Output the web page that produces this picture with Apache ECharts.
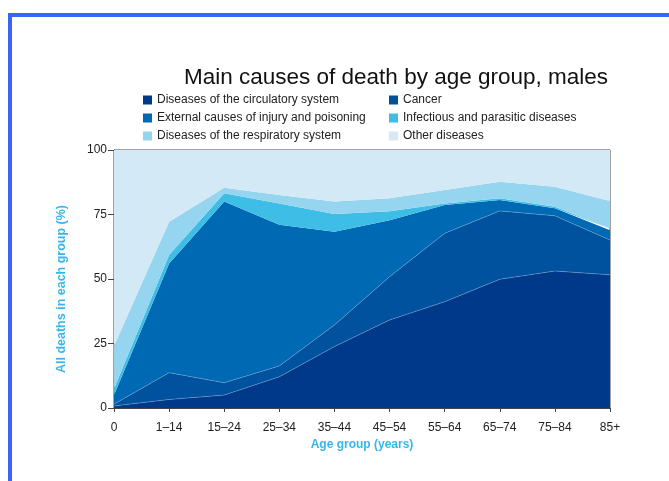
<!DOCTYPE html>
<html>
<head>
<meta charset="utf-8">
<title>Main causes of death by age group, males</title>
<script src="https://cdn.jsdelivr.net/npm/echarts@6/dist/echarts.min.js"></script>
<style>
    html, body { margin: 0; padding: 0; background: #fff; }
    #chart { width: 669px; height: 481px; }
</style>
</head>
<body>
<div id="chart"></div>
<script>
    // age groups on the x axis
    var ageGroups = ['0', '1–14', '15–24', '25–34', '35–44', '45–54', '55–64', '65–74', '75–84', '85+'];

    // share of all deaths (%) for each cause
    var circulatory = [0.8, 3.3, 5.0, 12.1, 23.8, 34.1, 41.2, 49.9, 53.1, 51.6];
    var cancer      = [0.7, 10.4, 4.8, 4.2, 8.4, 16.8, 26.5, 26.5, 21.4, 13.5];
    var external    = [3.5, 42.3, 70.2, 54.7, 36.1, 21.9, 11.0, 4.2, 2.9, 3.8];
    var infectious  = [2.5, 3.3, 3.2, 8.3, 6.9, 3.5, 0.6, 0.7, 0.6, 0.7];
    var respiratory = [16.5, 12.9, 2.2, 3.3, 4.8, 5.0, 5.2, 6.4, 7.8, 10.6];
    var other       = [76.0, 27.8, 14.6, 17.4, 20.0, 18.7, 15.5, 12.3, 14.2, 19.8];

    var yTicks = [0, 25, 50, 75, 100];

    var names = {
        circ: 'Diseases of the circulatory system',
        cancer: 'Cancer',
        ext: 'External causes of injury and poisoning',
        inf: 'Infectious and parasitic diseases',
        resp: 'Diseases of the respiratory system',
        other: 'Other diseases'
    };

    var font = 'Liberation Sans, Arial, sans-serif';

    function area(name, data, color, edge) {
        return {
            name: name,
            type: 'line',
            stack: 'all',
            data: data,
            symbol: 'none',
            color: color,
            lineStyle: edge ? { width: 0.6, color: 'rgba(140,175,220,0.7)' } : { width: 0 },
            areaStyle: { color: color, opacity: 1 },
            emphasis: { disabled: true }
        };
    }

    var legendText = { fontFamily: font, fontSize: 12, color: '#222' };

    var option = {
        animation: false,
        title: {
            text: 'Main causes of death by age group, males',
            left: 391,
            textAlign: 'center',
            top: 61,
            textStyle: {
                fontFamily: font,
                fontSize: 22.5,
                fontWeight: 'normal',
                color: '#111'
            }
        },
        legend: [{
            orient: 'vertical',
            left: 138,
            top: 89,
            itemWidth: 9,
            itemHeight: 9,
            itemGap: 6,
            icon: 'rect',
            selectedMode: false,
            textStyle: legendText,
            data: [names.circ, names.ext, names.resp]
        }, {
            orient: 'vertical',
            left: 384,
            top: 89,
            itemWidth: 9,
            itemHeight: 9,
            itemGap: 6,
            icon: 'rect',
            selectedMode: false,
            textStyle: legendText,
            data: [names.cancer, names.inf, names.other]
        }],
        grid: {
            left: 114,
            right: 59,
            top: 150,
            bottom: 73,
            show: true,
            borderColor: '#444',
            borderWidth: 1
        },
        xAxis: {
            type: 'category',
            boundaryGap: false,
            data: ageGroups,
            name: 'Age group (years)',
            nameLocation: 'middle',
            nameGap: 30,
            nameTextStyle: {
                fontFamily: font,
                fontSize: 12,
                fontWeight: 'bold',
                color: '#38b6e8'
            },
            axisLine: { lineStyle: { color: '#444', width: 1 } },
            axisTick: { length: 4, lineStyle: { color: '#444' } },
            axisLabel: {
                margin: 14,
                fontFamily: font,
                fontSize: 12,
                color: '#222'
            },
            splitLine: { show: false }
        },
        yAxis: {
            type: 'value',
            min: 0,
            max: 100,
            interval: 25,
            name: 'All deaths in each group (%)',
            nameLocation: 'middle',
            nameGap: 46,
            nameRotate: 90,
            nameTextStyle: {
                fontFamily: font,
                fontSize: 12.5,
                fontWeight: 'bold',
                color: '#38b6e8',
                padding: [0, 20, 0, 0]
            },
            axisLine: { show: true, lineStyle: { color: '#444', width: 1 } },
            axisTick: { show: true, length: 6, lineStyle: { color: '#444' } },
            axisLabel: {
                margin: 7,
                fontFamily: font,
                fontSize: 12,
                color: '#222',
                formatter: function (v) { return yTicks.indexOf(v) >= 0 ? String(v) : ''; }
            },
            splitLine: { show: false }
        },
        // blue frame round the figure
        graphic: [
            { type: 'rect', shape: { x: 8, y: 13, width: 661, height: 4 }, style: { fill: '#3766f6' }, silent: true },
            { type: 'rect', shape: { x: 8, y: 13, width: 4, height: 468 }, style: { fill: '#3766f6' }, silent: true }
        ],
        series: [
            area(names.circ, circulatory, '#00388a', true),
            area(names.cancer, cancer, '#00529e', true),
            area(names.ext, external, '#0069b3', false),
            area(names.inf, infectious, '#3ebde7', false),
            area(names.resp, respiratory, '#96d5ef', false),
            area(names.other, other, '#d3e9f6', false)
        ]
    };

    var myChart = echarts.init(document.getElementById('chart'));
    myChart.setOption(option);
</script>
</body>
</html>
